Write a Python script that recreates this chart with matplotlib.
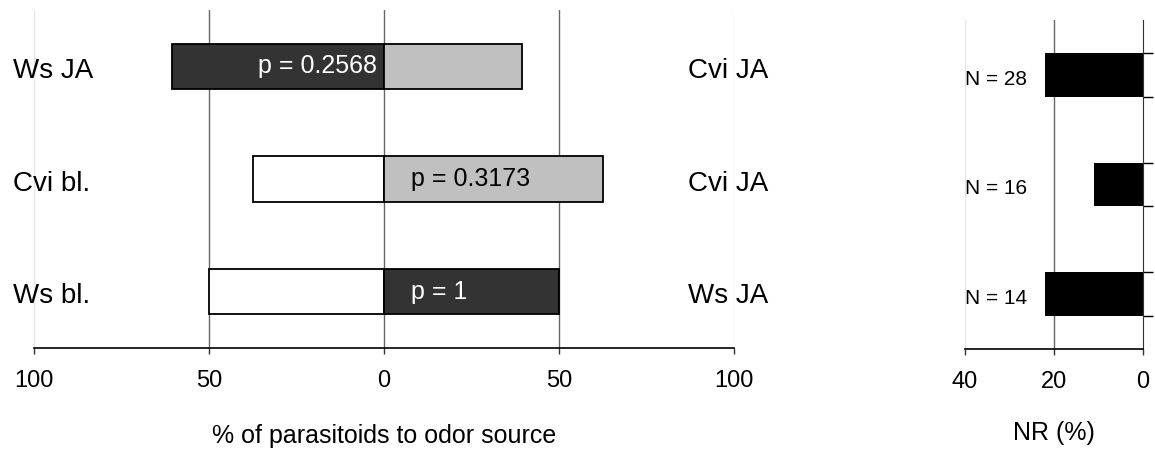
import numpy as np
import matplotlib.pyplot as plt
from matplotlib import rcParams

rcParams['font.family'] = ['Liberation Sans', 'DejaVu Sans']

# Data
left_labels = ['Ws JA', 'Cvi bl.', 'Ws bl.']
right_labels = ['Cvi JA', 'Cvi JA', 'Ws JA']
left_pct = [60.7, 37.5, 50.0]
right_pct = [39.3, 62.5, 50.0]
p_labels = ['p = 0.2568', 'p = 0.3173', 'p = 1']
nr_pct = [22.0, 11.0, 22.0]
n_sizes = [28, 16, 14]
x_ticks = [-100, -50, 0, 50, 100]
nr_ticks = [40, 20, 0]

# Styles
left_colors = ['#333333', 'white', 'white']
right_colors = ['#c0c0c0', '#c0c0c0', '#333333']
p_colors = ['white', 'black', 'white']
p_side = ['left', 'right', 'right']

rows = np.arange(len(left_labels))[::-1] + 0.5
bar_h = 0.4

fig = plt.figure(figsize=(11.55, 4.5), dpi=100)
ax = fig.add_axes([34 / 1155, 1 - 348 / 450, 700 / 1155, 338 / 450])
ax2 = fig.add_axes([965 / 1155, 1 - 349 / 450, 178 / 1155, 329 / 450])

# 1. Left panel: diverging bars
for x in x_ticks:
    col = '#e6e6e6' if abs(x) == 100 else '#666666'
    ax.axvline(x, color=col, linewidth=1, zorder=0)

ax.barh(rows, [-v for v in left_pct], height=bar_h, color=left_colors,
        edgecolor='black', linewidth=1.3, zorder=2)
ax.barh(rows, right_pct, height=bar_h, color=right_colors,
        edgecolor='black', linewidth=1.3, zorder=2)

for y, txt, c, side in zip(rows, p_labels, p_colors, p_side):
    if side == 'left':
        ax.text(-2, y, txt, color=c, fontsize=18, ha='right', va='center', zorder=3)
    else:
        ax.text(7.7, y, txt, color=c, fontsize=18, ha='left', va='center', zorder=3)

# category labels on both sides of the diverging panel
for y, lab in zip(rows, left_labels):
    ax.text(-106, y - 0.04, lab, fontsize=20, ha='left', va='center', clip_on=False)
for y, lab in zip(rows, right_labels):
    ax.text(100 + (688 - 734) / 3.5, y - 0.04, lab, fontsize=20, ha='left', va='center')

ax.set_xlim(-100, 100)
ax.set_ylim(0, 3)
ax.set_xticks(x_ticks)
ax.set_xticklabels([str(abs(v)) for v in x_ticks], fontsize=17)
ax.tick_params(axis='x', direction='out', length=4, width=1, pad=12, color='#333333')
ax.set_yticks([])
for s in ['top', 'right', 'left']:
    ax.spines[s].set_visible(False)
ax.spines['bottom'].set_linewidth(1.2)
ax.set_xlabel('% of parasitoids to odor source', fontsize=18, labelpad=23)

# 2. Right panel: NR (%)
ax2.axvline(40, color='#e6e6e6', linewidth=1, zorder=0)
ax2.axvline(20, color='#666666', linewidth=1, zorder=0)
ax2.barh(rows, nr_pct, height=bar_h, color='black', zorder=2)
for y, n in zip(rows, n_sizes):
    ax2.text(40, y - 0.04, f'N = {n}', fontsize=15, ha='left', va='center')

ax2.set_xlim(40, 0)
ax2.set_ylim(0, 3)
ax2.set_xticks(nr_ticks)
ax2.set_xticklabels([str(v) for v in nr_ticks], fontsize=17)
ax2.tick_params(axis='x', direction='out', length=4, width=1, pad=12, color='#333333')
edges = np.sort(np.concatenate([rows - bar_h / 2, rows + bar_h / 2]))
ax2.yaxis.tick_right()
ax2.set_yticks(edges)
ax2.set_yticklabels([])
ax2.tick_params(axis='y', direction='out', length=7, width=1)
for s in ['top', 'left']:
    ax2.spines[s].set_visible(False)
ax2.spines['right'].set_color('#333333')
ax2.spines['bottom'].set_linewidth(1.2)
ax2.set_xlabel('NR (%)', fontsize=18, labelpad=20)

plt.savefig('out.png', dpi=100)
